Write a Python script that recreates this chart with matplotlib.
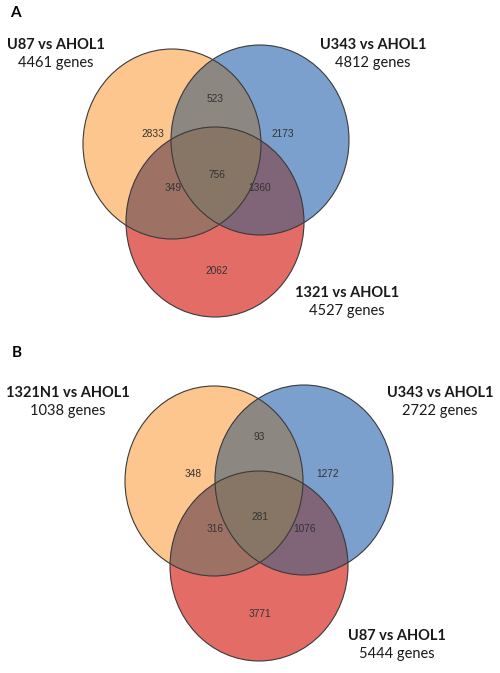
import matplotlib
matplotlib.use("Agg")
import matplotlib.pyplot as plt
import numpy as np
from matplotlib.patches import Ellipse, Polygon

# panel A
a_sets = ["U87 vs AHOL1", "U343 vs AHOL1", "1321 vs AHOL1"]
a_totals = [4461, 4812, 4527]
# only1, only2, only3, 1&2, 1&3, 2&3, all
a_counts = [2833, 2173, 2062, 523, 349, 1360, 756]

# panel B
b_sets = ["1321N1 vs AHOL1", "U343 vs AHOL1", "U87 vs AHOL1"]
b_totals = [1038, 2722, 5444]
b_counts = [348, 1272, 3771, 93, 316, 1076, 281]

RX, RY = 89, 95
col_a, col_b, col_c = "#FDC68F", "#7CA0CD", "#E36C67"
col_ab, col_ac, col_bc, col_abc = "#8D8782", "#9D7265", "#7F6577", "#877666"


def inside(x, y, c):
    return ((x - c[0]) / RX) ** 2 + ((y - c[1]) / RY) ** 2 < 1


def arc_inside(c1, c2, n=1440):
    t = np.linspace(0, 2 * np.pi, n, endpoint=False)
    x = c1[0] + RX * np.cos(t)
    y = c1[1] + RY * np.sin(t)
    m = inside(x, y, c2)
    k = np.argmin(m)  # start on a point outside so the run is contiguous
    x, y, m = np.roll(x, -k), np.roll(y, -k), np.roll(m, -k)
    return np.column_stack([x[m], y[m]])


def lens(c1, c2):
    return np.vstack([arc_inside(c1, c2), arc_inside(c2, c1)])


def venn(ax, centers, counts, num_pos):
    ca, cb, cc = centers
    tr = ax.transData
    for c, col in zip(centers, [col_a, col_b, col_c]):
        ax.add_patch(Ellipse(c, 2 * RX, 2 * RY, fc=col, ec="none"))

    def clipped(shape_c, clip_c, col):
        clip = Ellipse(clip_c, 2 * RX, 2 * RY, transform=tr)
        p = Ellipse(shape_c, 2 * RX, 2 * RY, fc=col, ec="none")
        ax.add_patch(p)
        p.set_clip_path(clip)

    clipped(cb, ca, col_ab)
    clipped(cc, ca, col_ac)
    clipped(cc, cb, col_bc)
    p = Polygon(lens(ca, cb), closed=True, fc=col_abc, ec="none")
    ax.add_patch(p)
    p.set_clip_path(Ellipse(cc, 2 * RX, 2 * RY, transform=tr))

    for c in centers:
        ax.add_patch(Ellipse(c, 2 * RX, 2 * RY, fc="none", ec="#3a3a3a", lw=0.8))
    for v, (x, y) in zip(counts, num_pos):
        ax.text(x, y, str(v), ha="center", va="center", fontsize=7.3,
                family="Liberation Sans", color="#333333")


def label(ax, x, y, name, total):
    ax.text(x, y, name, ha="center", va="center", fontsize=10.5,
            family="Lato", fontweight="bold", color="#1a1a1a")
    ax.text(x, y + 18, f"{total} genes", ha="center", va="center",
            fontsize=10.5, family="Lato", color="#1a1a1a")


fig = plt.figure(figsize=(5, 6.73), dpi=100)
ax = fig.add_axes([0, 0, 1, 1])
ax.set_xlim(0, 500)
ax.set_ylim(673, 0)
ax.axis("off")

venn(ax, [(172, 144), (260, 140), (215, 222)], a_counts,
     [(153, 134), (283, 134), (217, 271), (215, 99), (173, 188), (260, 188), (217, 175)])
label(ax, 56, 45, a_sets[0], a_totals[0])
label(ax, 373, 45, a_sets[1], a_totals[1])
label(ax, 347, 293, a_sets[2], a_totals[2])
ax.text(10, 13, "A", fontsize=11, family="Lato", fontweight="bold", va="center")

venn(ax, [(214, 481), (304, 480), (259, 566)], b_counts,
     [(193, 474), (328, 474), (260, 614), (259, 437), (215, 529), (305, 529), (260, 517)])
label(ax, 68, 393, b_sets[0], b_totals[0])
label(ax, 440, 393, b_sets[1], b_totals[1])
label(ax, 397, 636, b_sets[2], b_totals[2])
ax.text(12, 353, "B", fontsize=11, family="Lato", fontweight="bold", va="center")

fig.savefig("out.png", dpi=100)
